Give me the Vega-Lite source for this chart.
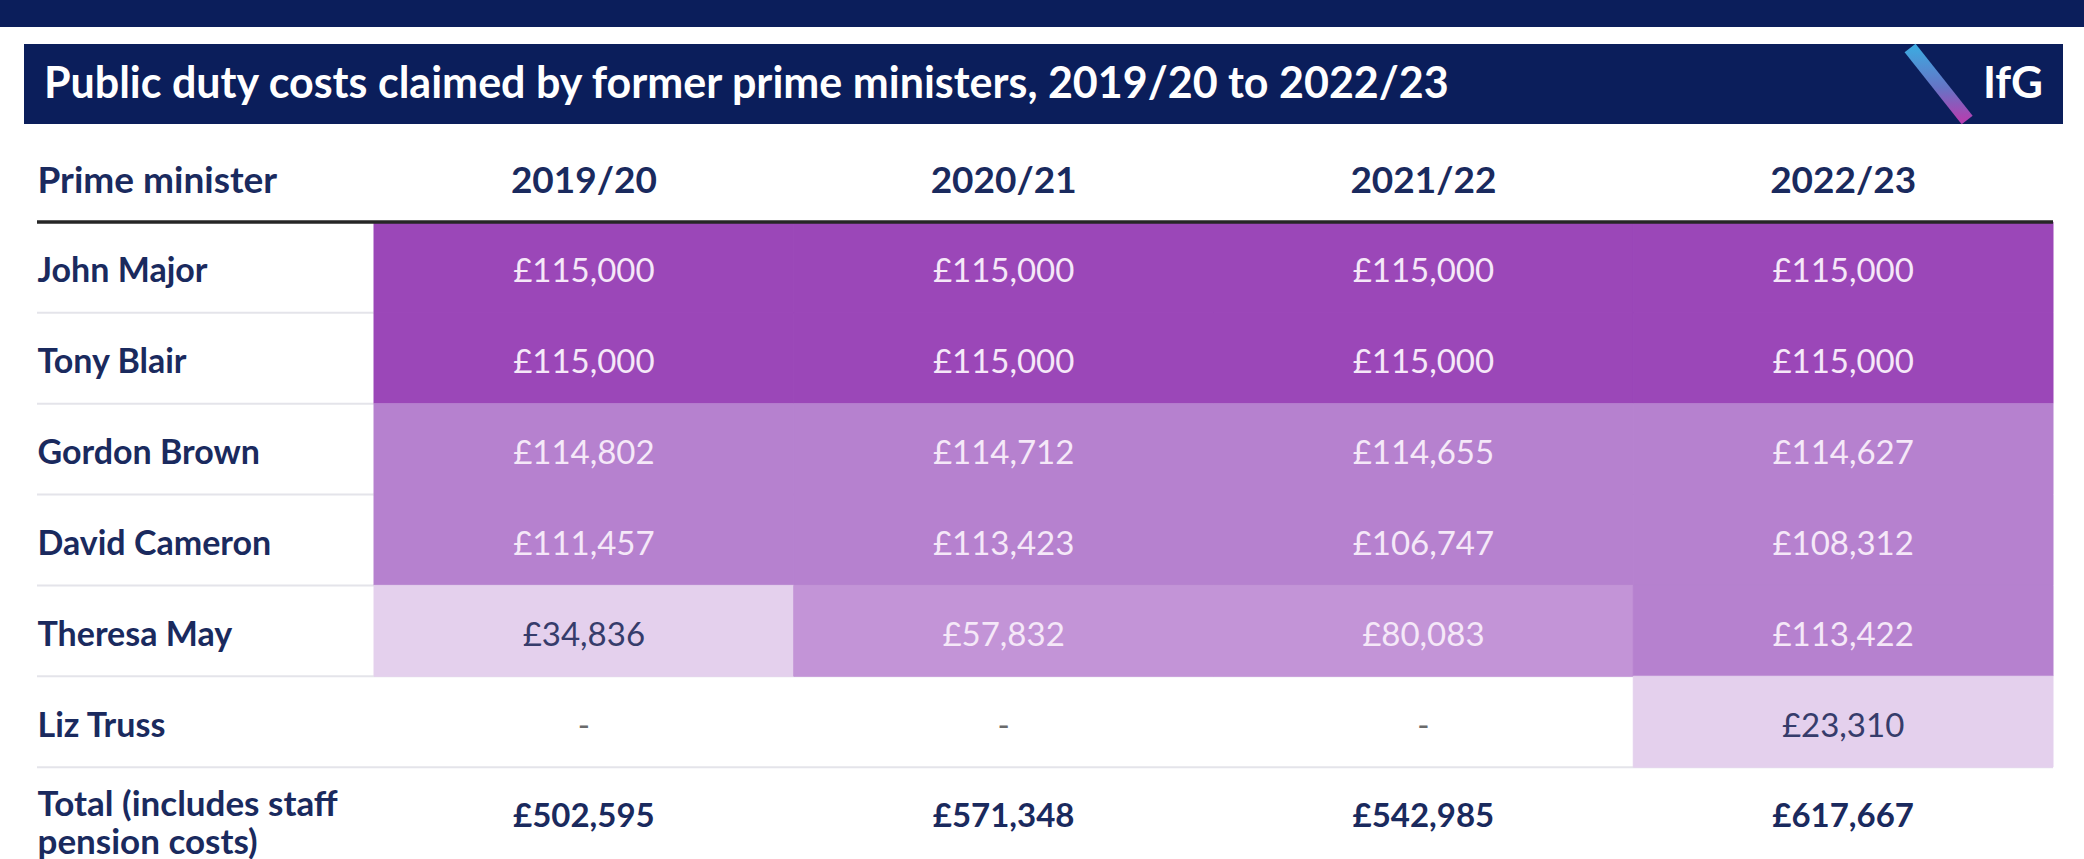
{
  "$schema": "https://vega.github.io/schema/vega-lite/v6.json",
  "width": 2016,
  "height": 859,
  "autosize": "none",
  "padding": {"left": 37, "top": 0, "right": 31, "bottom": 0},
  "background": "white",
  "config": {
    "view": {"stroke": null},
    "font": "Lato",
    "locale": {
      "number": {"decimal": ".", "thousands": ",", "grouping": [3], "currency": ["£", ""]}
    }
  },
  "datasets": {
    "cells": [
      {"pm": "John Major", "year": "2019/20", "value": 115000},
      {"pm": "John Major", "year": "2020/21", "value": 115000},
      {"pm": "John Major", "year": "2021/22", "value": 115000},
      {"pm": "John Major", "year": "2022/23", "value": 115000},
      {"pm": "Tony Blair", "year": "2019/20", "value": 115000},
      {"pm": "Tony Blair", "year": "2020/21", "value": 115000},
      {"pm": "Tony Blair", "year": "2021/22", "value": 115000},
      {"pm": "Tony Blair", "year": "2022/23", "value": 115000},
      {"pm": "Gordon Brown", "year": "2019/20", "value": 114802},
      {"pm": "Gordon Brown", "year": "2020/21", "value": 114712},
      {"pm": "Gordon Brown", "year": "2021/22", "value": 114655},
      {"pm": "Gordon Brown", "year": "2022/23", "value": 114627},
      {"pm": "David Cameron", "year": "2019/20", "value": 111457},
      {"pm": "David Cameron", "year": "2020/21", "value": 113423},
      {"pm": "David Cameron", "year": "2021/22", "value": 106747},
      {"pm": "David Cameron", "year": "2022/23", "value": 108312},
      {"pm": "Theresa May", "year": "2019/20", "value": 34836},
      {"pm": "Theresa May", "year": "2020/21", "value": 57832},
      {"pm": "Theresa May", "year": "2021/22", "value": 80083},
      {"pm": "Theresa May", "year": "2022/23", "value": 113422},
      {"pm": "Liz Truss", "year": "2019/20", "value": null},
      {"pm": "Liz Truss", "year": "2020/21", "value": null},
      {"pm": "Liz Truss", "year": "2021/22", "value": null},
      {"pm": "Liz Truss", "year": "2022/23", "value": 23310},
      {"pm": "Total", "year": "2019/20", "value": 502595},
      {"pm": "Total", "year": "2020/21", "value": 571348},
      {"pm": "Total", "year": "2021/22", "value": 542985},
      {"pm": "Total", "year": "2022/23", "value": 617667}
    ],
    "years": [
      {"year": "2019/20"},
      {"year": "2020/21"},
      {"year": "2021/22"},
      {"year": "2022/23"}
    ]
  },
  "layer": [
    {
      "data": {"values": [{"part": "bar"}]},
      "mark": {"type": "rect", "color": "#0b1e5b"},
      "encoding": {
        "x": {"field": "part", "type": "nominal", "scale": {"range": [-37, 2047], "paddingInner": 0, "paddingOuter": 0}, "axis": null},
        "y": {"field": "part", "type": "nominal", "scale": {"range": [0, 27], "paddingInner": 0, "paddingOuter": 0}, "axis": null}
      }
    },
    {
      "data": {"values": [{"title": "Public duty costs claimed by former prime ministers, 2019/20 to 2022/23", "logo": "IfG"}]},
      "layer": [
        {
          "mark": {"type": "rect", "color": "#0b1e5b"},
          "encoding": {
            "x": {"datum": 0, "type": "quantitative", "scale": {"domain": [0, 1], "range": [-13, 2026], "nice": false}, "axis": null},
            "x2": {"datum": 1},
            "y": {"datum": 0, "type": "quantitative", "scale": {"domain": [0, 1], "range": [44, 124], "nice": false}, "axis": null},
            "y2": {"datum": 1}
          }
        },
        {
          "mark": {
            "type": "rule",
            "strokeWidth": 14,
            "color": {
              "gradient": "linear",
              "x1": 0, "y1": 0, "x2": 0, "y2": 1,
              "stops": [
                {"offset": 0, "color": "#3ea8df"},
                {"offset": 0.55, "color": "#6574c6"},
                {"offset": 1, "color": "#b340b0"}
              ]
            }
          },
          "encoding": {
            "x": {"datum": 0.925, "type": "quantitative", "scale": {"domain": [0, 1], "range": [-13, 2026], "nice": false}, "axis": null},
            "x2": {"datum": 0.953},
            "y": {"datum": 0.05, "type": "quantitative", "scale": {"domain": [0, 1], "range": [44, 124], "nice": false}, "axis": null},
            "y2": {"datum": 0.95}
          }
        },
        {
          "mark": {"type": "text", "align": "left", "baseline": "middle", "dx": 20, "dy": 1, "fontSize": 43, "fontWeight": "bold", "color": "white"},
          "encoding": {
            "text": {"field": "title"},
            "x": {"datum": 0, "type": "quantitative", "scale": {"domain": [0, 1], "range": [-13, 2026], "nice": false}, "axis": null},
            "y": {"datum": 0.5, "type": "quantitative", "scale": {"domain": [0, 1], "range": [44, 124], "nice": false}, "axis": null}
          }
        },
        {
          "mark": {"type": "text", "align": "right", "baseline": "middle", "dx": -20, "dy": 1, "fontSize": 44, "fontWeight": "bold", "color": "white"},
          "encoding": {
            "text": {"field": "logo"},
            "x": {"datum": 1, "type": "quantitative", "scale": {"domain": [0, 1], "range": [-13, 2026], "nice": false}, "axis": null},
            "y": {"datum": 0.5, "type": "quantitative", "scale": {"domain": [0, 1], "range": [44, 124], "nice": false}, "axis": null}
          }
        }
      ]
    },
    {
      "data": {"name": "cells"},
      "layer": [
        {
          "transform": [{"filter": "datum.year === '2019/20' && datum.pm !== 'Total'"}],
          "mark": {"type": "rule", "color": "#e4e4ea", "strokeWidth": 2},
          "encoding": {
            "y": {
              "field": "pm", "type": "nominal", "bandPosition": 1,
              "scale": {"domain": ["Prime minister", "John Major", "Tony Blair", "Gordon Brown", "David Cameron", "Theresa May", "Liz Truss", "Total"], "range": [131, 858], "paddingInner": 0, "paddingOuter": 0},
              "axis": {
                "orient": "left", "title": null, "domain": false, "ticks": false, "tickSize": 0, "grid": false,
                "labelAlign": "left", "labelBaseline": "middle", "labelPadding": 0, "labelLimit": 600,
                "labelFont": "Lato", "labelFontWeight": "bold", "labelColor": "#1a2a5e",
                "labelFontSize": {"condition": [{"test": "datum.value === 'Prime minister'", "value": 37}, {"test": "datum.value === 'Total'", "value": 35}], "value": 34},
                "labelOffset": {"condition": [{"test": "datum.value === 'Prime minister'", "value": 6}, {"test": "datum.value === 'Total'", "value": -8}], "value": 5},
                "labelLineHeight": 38,
                "labelExpr": "datum.label === 'Total' ? ['Total (includes staff', 'pension costs)'] : datum.label"
              }
            }
          }
        },
        {
          "transform": [{"filter": "datum.pm !== 'Total' && isValid(datum.value)"}],
          "mark": {"type": "rect", "strokeWidth": 1},
          "encoding": {
            "x": {"field": "year", "type": "nominal", "scale": {"domain": ["2019/20", "2020/21", "2021/22", "2022/23"], "range": [337, 2016], "paddingInner": 0, "paddingOuter": 0}, "axis": null},
            "y": {"field": "pm", "type": "nominal"},
            "color": {
              "field": "value", "type": "quantitative",
              "scale": {"type": "threshold", "domain": [50000, 100000, 115000], "range": ["#e4d0ed", "#c394d7", "#b681cf", "#9b47b8"]},
              "legend": null
            },
            "stroke": {
              "field": "value", "type": "quantitative",
              "scale": {"type": "threshold", "domain": [50000, 100000, 115000], "range": ["#e4d0ed", "#c394d7", "#b681cf", "#9b47b8"]},
              "legend": null
            }
          }
        },
        {
          "transform": [{"filter": "datum.pm === 'John Major' && datum.year === '2019/20'"}],
          "mark": {"type": "rule", "color": "#262626", "strokeWidth": 3.5},
          "encoding": {
            "y": {"field": "pm", "type": "nominal", "bandPosition": 0}
          }
        },
        {
          "transform": [{"filter": "datum.pm !== 'Total' && isValid(datum.value)"}],
          "mark": {"type": "text", "baseline": "middle", "dy": 5, "fontSize": 33},
          "encoding": {
            "x": {"field": "year", "type": "nominal", "axis": null},
            "y": {"field": "pm", "type": "nominal"},
            "text": {"field": "value", "type": "quantitative", "format": "$,.0f"},
            "color": {"condition": {"test": "datum.value < 50000", "value": "#363c6b"}, "value": "#f5e8f8"}
          }
        },
        {
          "transform": [{"filter": "!isValid(datum.value)"}],
          "mark": {"type": "text", "baseline": "middle", "dy": 5, "fontSize": 33, "color": "#6b6b6b", "text": "-"},
          "encoding": {
            "x": {"field": "year", "type": "nominal", "axis": null},
            "y": {"field": "pm", "type": "nominal"}
          }
        },
        {
          "transform": [{"filter": "datum.pm === 'Total'"}],
          "mark": {"type": "text", "baseline": "middle", "dy": 4, "fontSize": 33, "fontWeight": "bold", "color": "#1a2a5e"},
          "encoding": {
            "x": {"field": "year", "type": "nominal", "axis": null},
            "y": {"field": "pm", "type": "nominal"},
            "text": {"field": "value", "type": "quantitative", "format": "$,.0f"}
          }
        },
        {
          "data": {"name": "years"},
          "mark": {"type": "text", "baseline": "middle", "dy": 6, "fontSize": 37, "fontWeight": "bold", "color": "#1a2a5e"},
          "encoding": {
            "x": {"field": "year", "type": "nominal", "axis": null},
            "y": {"datum": "Prime minister", "type": "nominal"},
            "text": {"field": "year"}
          }
        }
      ]
    }
  ],
  "resolve": {"scale": {"x": "independent", "y": "independent"}}
}
